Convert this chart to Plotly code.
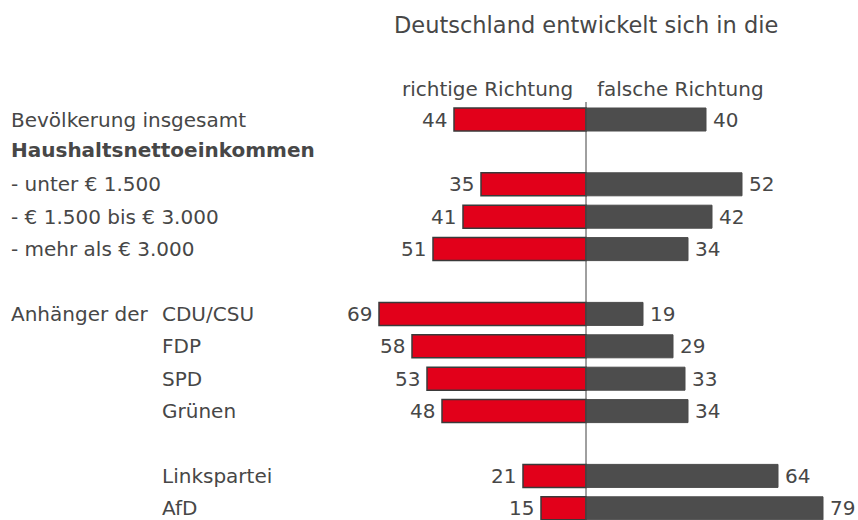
import plotly.graph_objects as go

# ---- data ----
categories = ["Bevölkerung insgesamt", "- unter € 1.500", "- € 1.500 bis € 3.000",
              "- mehr als € 3.000", "CDU/CSU", "FDP", "SPD", "Grünen", "Linkspartei", "AfD"]
groups = ["total", "income", "income", "income", "party", "party", "party", "party",
          "party_small", "party_small"]
richtige = [44, 35, 41, 51, 69, 58, 53, 48, 21, 15]
falsche = [40, 52, 42, 34, 19, 29, 33, 34, 64, 79]

title_text = "Deutschland entwickelt sich in die"
col_left = "richtige Richtung"
col_right = "falsche Richtung"
header_income = "Haushaltsnettoeinkommen"
party_prefix = "Anhänger der"

RED = "#E2001A"
GREY = "#4D4D4D"
TXT = "#474747"
FONT = "DejaVu Sans"
FS = 20
FS_TITLE = 22.5

W, H = 858, 520
CX = 586.0          # pixel of zero line
PPU = 3.0           # pixels per percentage point
ROW0 = 119.5        # pixel centre of first row
ROWH = 32.4         # pixel per slot

# compute slot positions from group structure
slots = []
header_slot = None
first_party_slot = None
s = 0
prev = None
for g in groups:
    if prev is not None and g != prev:
        if g == "income":
            s += 1
            header_slot = s
            s += 1
        else:
            s += 2
    elif prev is not None:
        s += 1
    if g == "party" and first_party_slot is None:
        first_party_slot = s
    slots.append(s)
    prev = g

y_top = -ROW0 / ROWH
y_bot = (H - ROW0) / ROWH

fig = go.Figure()
fig.add_trace(go.Bar(
    y=slots, x=[-v for v in richtige], orientation="h", base=0,
    marker=dict(color=RED, line=dict(color="#3a3a3a", width=1.5)),
    width=0.71, hoverinfo="skip", showlegend=False))
fig.add_trace(go.Bar(
    y=slots, x=falsche, orientation="h", base=0,
    marker=dict(color=GREY, line=dict(color="#4a4a4a", width=1)),
    width=0.71, hoverinfo="skip", showlegend=False))

ann = []
font = dict(family=FONT, size=FS, color=TXT)
for sl, cat, g, r, f in zip(slots, categories, groups, richtige, falsche):
    ann.append(dict(x=-r, y=sl, xref="x", yref="y", text=str(r), xanchor="right",
                    yanchor="middle", xshift=-5, showarrow=False, font=font))
    ann.append(dict(x=f, y=sl, xref="x", yref="y", text=str(f), xanchor="left",
                    yanchor="middle", xshift=5, showarrow=False, font=font))
    lx = 160 if g.startswith("party") else 9
    ann.append(dict(x=lx / W, y=sl, xref="paper", yref="y", text=cat, xanchor="left",
                    yanchor="middle", showarrow=False, font=font))

ann.append(dict(x=9 / W, y=header_slot, xref="paper", yref="y",
                text="<b>" + header_income + "</b>", xanchor="left", yanchor="middle",
                yshift=2, showarrow=False, font=font))
ann.append(dict(x=9 / W, y=first_party_slot, xref="paper", yref="y", text=party_prefix,
                xanchor="left", yanchor="middle", showarrow=False, font=font))
ann.append(dict(x=CX / W, y=1 - 25 / H, xref="paper", yref="paper", text=title_text,
                xanchor="center", yanchor="middle", showarrow=False,
                font=dict(family=FONT, size=FS_TITLE, color=TXT)))
ann.append(dict(x=575 / W, y=1 - 89 / H, xref="paper", yref="paper",
                text=col_left, xanchor="right", yanchor="middle", showarrow=False, font=font))
ann.append(dict(x=595 / W, y=1 - 89 / H, xref="paper", yref="paper",
                text=col_right, xanchor="left", yanchor="middle", showarrow=False, font=font))

fig.update_layout(
    width=W, height=H, margin=dict(l=0, r=0, t=0, b=0),
    paper_bgcolor="white", plot_bgcolor="white",
    barmode="overlay", annotations=ann, hovermode=False,
    xaxis=dict(range=[-CX / PPU, (W - CX) / PPU], visible=False, fixedrange=True),
    yaxis=dict(range=[y_bot, y_top], visible=False, fixedrange=True),
    shapes=[dict(type="line", xref="x", yref="paper", x0=0, x1=0, y0=0,
                 y1=1 - 102 / H, line=dict(color="#404040", width=1))],
)

fig.write_html(
    "out.html",
    config={"displayModeBar": False, "staticPlot": True},
    post_script="document.body.style.margin='0';document.body.style.overflow='hidden';",
)
